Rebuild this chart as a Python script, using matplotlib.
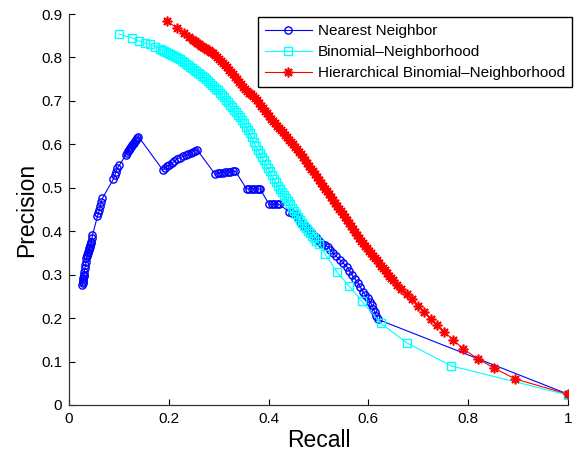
import matplotlib
matplotlib.use("Agg")
import matplotlib.pyplot as plt

plt.rcParams['font.family'] = ['Liberation Sans', 'DejaVu Sans']

labels = ["Nearest Neighbor", "Binomial\u2013Neighborhood", "Hierarchical Binomial\u2013Neighborhood"]

nn_recall = [0.027, 0.0275, 0.028, 0.0285, 0.029, 0.0295, 0.030, 0.031, 0.032, 0.033, 0.034, 0.035, 0.036,
             0.037, 0.038, 0.039, 0.040, 0.041, 0.042, 0.043, 0.044, 0.045, 0.046, 0.047,
             0.057, 0.059, 0.061, 0.063, 0.065, 0.067, 0.089, 0.092, 0.094, 0.097,
             0.101, 0.114, 0.116, 0.118, 0.120, 0.122, 0.124, 0.126, 0.128, 0.130, 0.132, 0.134, 0.137, 0.139,
             0.188, 0.192, 0.196, 0.201, 0.206, 0.211, 0.216, 0.222, 0.229, 0.234, 0.239, 0.244, 0.249, 0.253, 0.257,
             0.293, 0.298, 0.303, 0.308, 0.313, 0.318, 0.323, 0.328, 0.333,
             0.356, 0.361, 0.366, 0.371, 0.376, 0.380, 0.383,
             0.401, 0.406, 0.411, 0.416, 0.421,
             0.441, 0.447, 0.453, 0.458, 0.463, 0.469, 0.474, 0.479, 0.484, 0.489, 0.494, 0.499, 0.503,
             0.508, 0.513, 0.519, 0.524, 0.529, 0.536, 0.543, 0.550, 0.557, 0.562, 0.567, 0.573, 0.579,
             0.584, 0.589, 0.594, 0.599, 0.603, 0.607, 0.610, 0.613, 0.616, 0.619, 1.000]
nn_precision = [0.276, 0.280, 0.284, 0.288, 0.292, 0.296, 0.300, 0.307, 0.315, 0.322, 0.330, 0.338, 0.342,
                0.346, 0.350, 0.353, 0.357, 0.361, 0.364, 0.368, 0.372, 0.376, 0.384, 0.391,
                0.434, 0.442, 0.449, 0.459, 0.468, 0.476, 0.520, 0.529, 0.537, 0.545,
                0.552, 0.576, 0.580, 0.584, 0.588, 0.591, 0.595, 0.598, 0.601, 0.604, 0.607, 0.611, 0.615, 0.618,
                0.541, 0.545, 0.549, 0.553, 0.556, 0.561, 0.566, 0.569, 0.572, 0.575, 0.577, 0.580, 0.583, 0.585, 0.587,
                0.531, 0.533, 0.535, 0.535, 0.536, 0.536, 0.537, 0.538, 0.539,
                0.497, 0.498, 0.498, 0.497, 0.497, 0.497, 0.497,
                0.462, 0.462, 0.462, 0.462, 0.462,
                0.445, 0.442, 0.440, 0.430, 0.422, 0.414, 0.410, 0.406, 0.398, 0.391, 0.386, 0.380, 0.375,
                0.371, 0.368, 0.364, 0.357, 0.350, 0.342, 0.334, 0.326, 0.318, 0.309, 0.300, 0.290, 0.281,
                0.271, 0.261, 0.253, 0.246, 0.238, 0.230, 0.222, 0.214, 0.205, 0.197, 0.025]

bn_recall = [0.100, 0.126, 0.140, 0.152, 0.162, 0.172,
             0.182, 0.186, 0.190, 0.194, 0.198, 0.202, 0.206, 0.210, 0.214, 0.218, 0.222, 0.226, 0.230,
             0.234, 0.238, 0.242, 0.246, 0.250, 0.254, 0.258, 0.262, 0.266, 0.270, 0.274, 0.278, 0.282,
             0.286, 0.290, 0.294, 0.298, 0.302, 0.306, 0.310, 0.314, 0.318, 0.322, 0.326, 0.330, 0.334,
             0.338, 0.342, 0.346, 0.350, 0.354, 0.358, 0.362, 0.366, 0.370, 0.374, 0.378, 0.382, 0.386,
             0.390, 0.394, 0.398, 0.402, 0.406, 0.410, 0.414, 0.418, 0.422, 0.426, 0.430, 0.434, 0.438,
             0.442, 0.446, 0.450, 0.454, 0.458, 0.462, 0.466, 0.470, 0.474, 0.478, 0.482, 0.486, 0.490,
             0.495, 0.501, 0.513, 0.537, 0.561, 0.587, 0.625, 0.677, 0.766, 1.000]
bn_precision = [0.854, 0.845, 0.838, 0.833, 0.830, 0.825,
                0.820, 0.817, 0.815, 0.812, 0.810, 0.808, 0.806, 0.804, 0.802, 0.799, 0.796, 0.792, 0.789,
                0.785, 0.782, 0.778, 0.775, 0.772, 0.768, 0.765, 0.762, 0.758, 0.754, 0.750, 0.746, 0.741,
                0.737, 0.733, 0.728, 0.724, 0.718, 0.713, 0.708, 0.703, 0.697, 0.691, 0.685, 0.680, 0.674,
                0.668, 0.662, 0.655, 0.648, 0.641, 0.634, 0.625, 0.616, 0.606, 0.597, 0.588, 0.580, 0.571,
                0.563, 0.554, 0.546, 0.538, 0.529, 0.521, 0.513, 0.505, 0.498, 0.491, 0.484, 0.477, 0.470,
                0.462, 0.454, 0.447, 0.439, 0.432, 0.425, 0.419, 0.413, 0.407, 0.401, 0.396, 0.390, 0.384,
                0.378, 0.371, 0.348, 0.306, 0.274, 0.239, 0.188, 0.143, 0.090, 0.023]

hbn_recall = [0.196, 0.216, 0.230, 0.240,
              0.249, 0.253, 0.257, 0.261, 0.265, 0.269, 0.273, 0.277, 0.281, 0.285, 0.289, 0.293, 0.297,
              0.301, 0.305, 0.309, 0.313, 0.317, 0.321, 0.325, 0.329, 0.333, 0.337, 0.341, 0.345, 0.349,
              0.353, 0.357, 0.361, 0.365, 0.369, 0.373, 0.377, 0.381, 0.385, 0.389, 0.393, 0.397, 0.401,
              0.405, 0.409, 0.413, 0.417, 0.421, 0.425, 0.429, 0.433, 0.437, 0.441, 0.445, 0.449, 0.453,
              0.457, 0.461, 0.465, 0.469, 0.473, 0.477, 0.481, 0.485, 0.489, 0.493, 0.497, 0.501, 0.505,
              0.509, 0.513, 0.517, 0.521, 0.525, 0.529, 0.533, 0.537, 0.541, 0.545, 0.549, 0.553, 0.557,
              0.561, 0.565, 0.569, 0.573, 0.577, 0.581, 0.585, 0.589, 0.593, 0.597, 0.601, 0.605, 0.609,
              0.613, 0.617, 0.621, 0.625, 0.629, 0.633, 0.637, 0.641, 0.645, 0.649,
              0.657, 0.665, 0.677, 0.687, 0.699, 0.711, 0.725, 0.738, 0.752, 0.770, 0.790, 0.820, 0.852,
              0.894, 1.000]
hbn_precision = [0.884, 0.868, 0.856, 0.848,
                 0.840, 0.837, 0.834, 0.830, 0.827, 0.824, 0.821, 0.818, 0.816, 0.813, 0.810, 0.805, 0.801,
                 0.796, 0.792, 0.787, 0.783, 0.778, 0.772, 0.767, 0.761, 0.755, 0.750, 0.744, 0.738, 0.732,
                 0.728, 0.723, 0.719, 0.715, 0.711, 0.706, 0.702, 0.696, 0.689, 0.683, 0.677, 0.671, 0.665,
                 0.659, 0.654, 0.649, 0.643, 0.638, 0.633, 0.628, 0.622, 0.617, 0.611, 0.606, 0.600, 0.594,
                 0.589, 0.583, 0.577, 0.570, 0.564, 0.557, 0.551, 0.544, 0.538, 0.531, 0.525, 0.518, 0.512,
                 0.505, 0.498, 0.492, 0.485, 0.479, 0.472, 0.465, 0.459, 0.452, 0.446, 0.439, 0.432, 0.426,
                 0.419, 0.412, 0.405, 0.398, 0.391, 0.384, 0.378, 0.373, 0.367, 0.361, 0.355, 0.350, 0.344,
                 0.338, 0.333, 0.327, 0.321, 0.316, 0.310, 0.304, 0.298, 0.293, 0.287,
                 0.277, 0.267, 0.256, 0.244, 0.228, 0.214, 0.198, 0.184, 0.168, 0.150, 0.129, 0.106, 0.085,
                 0.060, 0.025]

x_ticks = [0, 0.2, 0.4, 0.6, 0.8, 1]
x_ticklabels = ["0", "0.2", "0.4", "0.6", "0.8", "1"]
y_ticks = [0, 0.1, 0.2, 0.3, 0.4, 0.5, 0.6, 0.7, 0.8, 0.9]
y_ticklabels = ["0", "0.1", "0.2", "0.3", "0.4", "0.5", "0.6", "0.7", "0.8", "0.9"]

fig = plt.figure(figsize=(5.77, 4.53), dpi=100)
ax = fig.add_axes([69 / 577, 48 / 453, 499 / 577, 391 / 453])

ax.plot(nn_recall, nn_precision, color=(0, 0, 1), lw=0.8, marker='o', ms=5.2,
        mfc='none', mec=(0, 0, 1), mew=1.0, label=labels[0])
ax.plot(bn_recall, bn_precision, color=(0, 1, 1), lw=0.8, marker='s', ms=5.4,
        mfc='none', mec=(0, 1, 1), mew=1.0, label=labels[1])
ax.plot(hbn_recall, hbn_precision, color=(1, 0, 0), lw=0.8, marker=(8, 2, 0), ms=7,
        mfc=(1, 0, 0), mec=(1, 0, 0), mew=1.2, label=labels[2])

ax.set_xlim(0, 1)
ax.set_ylim(0, 0.9)
ax.set_xticks(x_ticks)
ax.set_xticklabels(x_ticklabels)
ax.set_yticks(y_ticks)
ax.set_yticklabels(y_ticklabels)
ax.tick_params(direction='in', length=4, width=0.8, labelsize=11, colors='black', pad=5)
for s in ['top', 'right']:
    ax.spines[s].set_visible(False)
for s in ['left', 'bottom']:
    ax.spines[s].set_linewidth(0.9)
    ax.spines[s].set_color('#333333')

ax.set_xlabel("Recall", fontsize=16.5, labelpad=2)
ax.set_ylabel("Precision", fontsize=16.5, labelpad=2)

leg = ax.legend(loc='upper right', bbox_to_anchor=(572 / 577, 1 - 17 / 453),
                bbox_transform=fig.transFigure, borderaxespad=0, fontsize=11,
                numpoints=1, handlelength=3.1, handletextpad=0.4, labelspacing=0.47,
                borderpad=0.45, fancybox=False, framealpha=1, edgecolor='black')
leg.get_frame().set_linewidth(1.0)

fig.savefig("out.png", dpi=100)
